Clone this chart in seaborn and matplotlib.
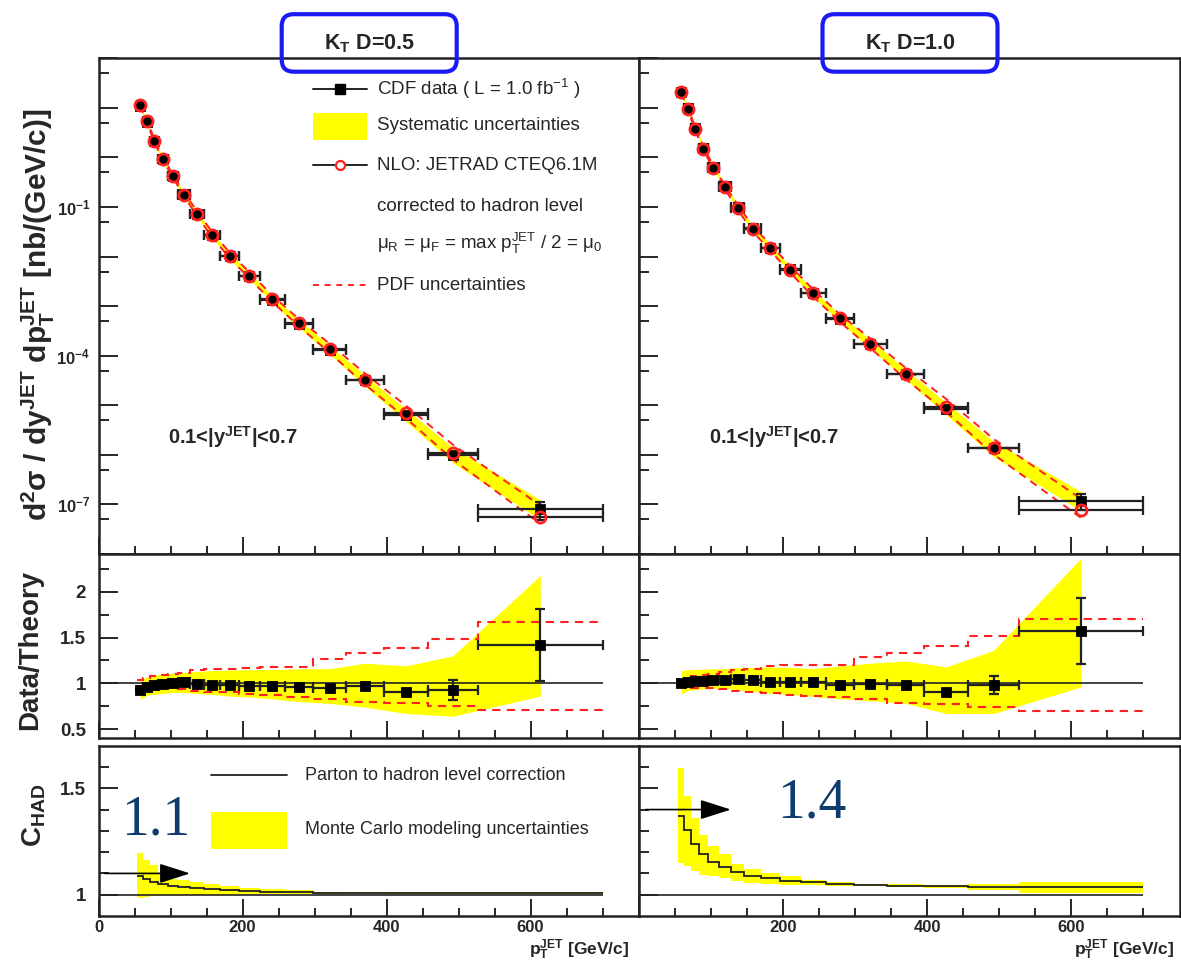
import numpy as np
import pandas as pd
import seaborn as sns
import matplotlib
matplotlib.use("Agg")
import matplotlib.pyplot as plt
from matplotlib.transforms import IdentityTransform
from matplotlib.patches import FancyBboxPatch, Rectangle
from matplotlib.lines import Line2D
from matplotlib.ticker import FixedLocator, FuncFormatter, NullFormatter

# ---------------- data ----------------
bin_edges = [54, 62, 72, 83, 96, 110, 127, 146, 169, 195, 224, 259, 298, 344, 396, 457, 527, 700]
bin_centers = [58, 67, 77.5, 89, 103, 118.5, 136.5, 157.5, 182, 209.5, 241.5, 278.5, 321, 370, 426.5, 492, 613.5]

# cross sections nb/(GeV/c)
xsec_d05 = [10.7, 5.1, 2.1, 0.93, 0.42, 0.18, 0.072, 0.027, 0.0102, 0.0040, 0.00135,
            4.4e-4, 1.3e-4, 3.2e-5, 6.5e-6, 1.0e-6, 8.1e-8]
xsec_d10 = [20.9, 9.8, 3.9, 1.55, 0.63, 0.26, 0.102, 0.037, 0.0148, 0.0055, 0.00182,
            5.6e-4, 1.7e-4, 4.2e-5, 8.5e-6, 1.35e-6, 1.2e-7]

# data / theory
ratio_d05 = [0.93, 0.96, 0.98, 0.99, 1.0, 1.01, 0.99, 0.985, 0.98, 0.97, 0.97, 0.96, 0.945, 0.97, 0.91, 0.925, 1.42]
ratio_d10 = [1.0, 1.01, 1.02, 1.03, 1.035, 1.04, 1.05, 1.04, 1.01, 1.015, 1.01, 0.98, 0.99, 0.985, 0.90, 0.98, 1.57]
stat_d05 = [0.01, 0.01, 0.01, 0.01, 0.01, 0.01, 0.01, 0.01, 0.01, 0.01, 0.01, 0.015, 0.02, 0.02, 0.03, 0.11, 0.39]
stat_d10 = [0.01, 0.01, 0.01, 0.01, 0.01, 0.01, 0.01, 0.01, 0.01, 0.01, 0.01, 0.015, 0.02, 0.02, 0.03, 0.10, 0.36]

# systematic band (relative to theory)
syst_hi_d05 = [1.04, 1.07, 1.09, 1.10, 1.11, 1.12, 1.13, 1.14, 1.145, 1.15, 1.15, 1.16, 1.16, 1.22, 1.19, 1.30, 2.18]
syst_lo_d05 = [0.82, 0.87, 0.88, 0.89, 0.90, 0.90, 0.89, 0.88, 0.86, 0.85, 0.83, 0.80, 0.78, 0.74, 0.67, 0.64, 0.86]
syst_hi_d10 = [1.14, 1.15, 1.15, 1.155, 1.16, 1.16, 1.17, 1.175, 1.18, 1.175, 1.16, 1.19, 1.22, 1.245, 1.18, 1.36, 2.37]
syst_lo_d10 = [0.88, 0.92, 0.93, 0.94, 0.945, 0.945, 0.93, 0.91, 0.89, 0.88, 0.855, 0.83, 0.81, 0.78, 0.67, 0.67, 0.96]

# PDF uncertainties (per bin)
pdf_hi_d05 = [1.04, 1.06, 1.08, 1.09, 1.10, 1.11, 1.15, 1.16, 1.16, 1.17, 1.18, 1.18, 1.27, 1.33, 1.39, 1.49, 1.675]
pdf_lo_d05 = [0.97, 0.96, 0.95, 0.95, 0.95, 0.94, 0.92, 0.91, 0.90, 0.88, 0.87, 0.855, 0.83, 0.80, 0.78, 0.75, 0.71]
pdf_hi_d10 = [1.04, 1.06, 1.08, 1.09, 1.10, 1.12, 1.15, 1.16, 1.19, 1.20, 1.20, 1.20, 1.285, 1.33, 1.41, 1.52, 1.70]
pdf_lo_d10 = [0.97, 0.96, 0.95, 0.945, 0.945, 0.94, 0.92, 0.90, 0.89, 0.87, 0.86, 0.845, 0.825, 0.79, 0.77, 0.745, 0.70]

# parton-to-hadron correction
chad_d05 = [1.09, 1.075, 1.06, 1.05, 1.04, 1.035, 1.03, 1.025, 1.02, 1.017, 1.014, 1.012, 1.01, 1.01, 1.008, 1.008, 1.008]
chad_hi_d05 = [1.195, 1.165, 1.14, 1.10, 1.075, 1.07, 1.06, 1.05, 1.04, 1.03, 1.025, 1.02, 1.015, 1.014, 1.012, 1.012, 1.012]
chad_lo_d05 = [0.985, 0.99, 0.995, 1.0, 1.0, 1.0, 1.0, 1.0, 1.0, 1.003, 1.003, 1.004, 1.005, 1.006, 1.005, 1.004, 1.004]
chad_d10 = [1.37, 1.305, 1.24, 1.19, 1.155, 1.13, 1.105, 1.09, 1.077, 1.064, 1.058, 1.05, 1.045, 1.042, 1.039, 1.0375, 1.034]
chad_hi_d10 = [1.594, 1.464, 1.36, 1.28, 1.23, 1.19, 1.145, 1.12, 1.10, 1.09, 1.07, 1.058, 1.052, 1.05, 1.047, 1.052, 1.06]
chad_lo_d10 = [1.148, 1.133, 1.11, 1.094, 1.086, 1.078, 1.0625, 1.055, 1.052, 1.045, 1.045, 1.042, 1.039, 1.036, 1.03, 1.02, 1.008]

titles = ["K$_\\mathbf{T}$ D=0.5", "K$_\\mathbf{T}$ D=1.0"]
chad_marks = [1.1, 1.4]
chad_mark_text = ["1.1", "1.4"]
chad_mark_pos = [(80, 1.35), (239, 1.43)]

# ---------------- style ----------------
sns.set_theme(style="ticks")
plt.rcParams["font.family"] = ["Liberation Sans", "DejaVu Sans"]
plt.rcParams.update({
    "mathtext.fontset": "custom",
    "mathtext.rm": "Liberation Sans",
    "mathtext.it": "Liberation Sans:italic",
    "mathtext.bf": "Liberation Sans:bold",
    "axes.linewidth": 1.8,
    "axes.edgecolor": "#222222",
    "xtick.direction": "in",
    "ytick.direction": "in",
})

W, H = 1181, 964
fig = plt.figure(figsize=(W / 100, H / 100), dpi=100)
fig.patch.set_facecolor("white")


def px_axes(x0, x1, y0, y1):
    return fig.add_axes([x0 / W, 1 - y1 / H, (x1 - x0) / W, (y1 - y0) / H])


def ftext(x, y, s, **kw):
    fig.text(x / W, 1 - y / H, s, **kw)


YELLOW = "#ffff00"
RED = "#ff2020"

cols = [(98.5, 639.3), (639.3, 1180.1)]
rows = {"top": (58.3, 554.0), "ratio": (554.0, 737.7), "chad": (745.7, 916.0)}

panel_data = [
    dict(xs=xsec_d05, r=ratio_d05, st=stat_d05, sh=syst_hi_d05, sl=syst_lo_d05,
         ph=pdf_hi_d05, pl=pdf_lo_d05, c=chad_d05, ch=chad_hi_d05, cl=chad_lo_d05),
    dict(xs=xsec_d10, r=ratio_d10, st=stat_d10, sh=syst_hi_d10, sl=syst_lo_d10,
         ph=pdf_hi_d10, pl=pdf_lo_d10, c=chad_d10, ch=chad_hi_d10, cl=chad_lo_d10),
]

edges = np.array(bin_edges, float)
cent = np.array(bin_centers, float)
xerr = [cent - edges[:-1], edges[1:] - cent]
XLIM = (0, 751)
xmajor = [0, 200, 400, 600]
xminor = [v for v in range(50, 701, 50) if v not in xmajor]


def style_x(ax, labels, show_zero=True):
    ax.set_xlim(*XLIM)
    ax.xaxis.set_major_locator(FixedLocator(xmajor))
    ax.xaxis.set_minor_locator(FixedLocator(xminor))
    ax.xaxis.set_major_formatter(FuncFormatter(
        lambda v, p: "" if (v == 0 and not show_zero) else "%d" % v))
    ax.tick_params(axis="x", which="major", length=12, width=1.4, top=False, bottom=True,
                   labelsize=12, pad=3, labelbottom=labels)
    ax.tick_params(axis="x", which="minor", length=6, width=1.4, top=False, bottom=True)
    for t in ax.get_xticklabels():
        t.set_fontweight("bold")
    ax.set_xlabel("")
    ax.set_ylabel("")


for i, (x0, x1) in enumerate(cols):
    d = panel_data[i]
    data = np.array(d["xs"])
    ratio = np.array(d["r"])
    theory = data / ratio

    # ---------- top panel ----------
    ax = px_axes(x0, x1, *rows["top"])
    ax.set_yscale("log")
    ax.set_ylim(1e-8, 1e2)
    ax.fill_between(cent, theory * np.array(d["sl"]), theory * np.array(d["sh"]),
                    color=YELLOW, lw=0, zorder=1)
    ax.plot(cent, theory * np.array(d["ph"]), ls=(0, (4, 3)), color=RED, lw=1.4, zorder=2)
    ax.plot(cent, theory * np.array(d["pl"]), ls=(0, (4, 3)), color=RED, lw=1.4, zorder=2)
    ax.errorbar(cent, theory, xerr=xerr, fmt="none", ecolor="#222222", elinewidth=1.6,
                capsize=3.5, capthick=1.6, zorder=3)
    ax.errorbar(cent, data, xerr=xerr, yerr=data * np.array(d["st"]), fmt="none",
                ecolor="#222222", elinewidth=1.6, capsize=3.5, capthick=1.6, zorder=3)
    sns.scatterplot(x=cent, y=data, marker="s", color="black", s=45, edgecolor="black",
                    ax=ax, zorder=4, legend=False)
    ax.plot(cent, theory, ls="none", marker="o", ms=8, mfc="none", mec=RED, mew=2.0, zorder=5)
    ax.yaxis.set_major_locator(FixedLocator([10.0 ** k for k in range(-8, 3)]))
    ax.yaxis.set_minor_locator(FixedLocator([5 * 10.0 ** k for k in range(-8, 2)]))
    ax.yaxis.set_major_formatter(FuncFormatter(
        lambda v, p: ("$\\mathbf{10^{%d}}$" % round(np.log10(v))) if round(np.log10(v)) in (-7, -4, -1) else ""))
    ax.yaxis.set_minor_formatter(NullFormatter())
    ax.tick_params(axis="y", which="major", length=14, width=1.4, left=True, right=False,
                   labelsize=12, pad=6, labelleft=(i == 0))
    ax.tick_params(axis="y", which="minor", length=7, width=1.4, left=True, right=False)
    style_x(ax, False)
    ax.text(0.128, 0.235, "0.1<|y$^{\\mathbf{JET}}$|<0.7",
            transform=ax.transAxes, fontsize=14.5, fontweight="bold", ha="left", va="center")

    # ---------- ratio panel ----------
    ax = px_axes(x0, x1, *rows["ratio"])
    ax.set_ylim(0.405, 2.415)
    ax.fill_between(cent, d["sl"], d["sh"], color=YELLOW, lw=0, zorder=1)
    ax.hlines(1, 0, edges[-1], color="#222222", lw=1.2, zorder=2)
    ax.stairs(d["ph"], edges, baseline=None, ls=(0, (4, 3)), color=RED, lw=1.5, zorder=3)
    ax.stairs(d["pl"], edges, baseline=None, ls=(0, (4, 3)), color=RED, lw=1.5, zorder=3)
    ax.errorbar(cent, ratio, xerr=xerr, yerr=d["st"], fmt="none", ecolor="#222222",
                elinewidth=1.6, capsize=3.5, capthick=1.6, zorder=4)
    sns.scatterplot(x=cent, y=ratio, marker="s", color="black", s=55, edgecolor="black",
                    ax=ax, zorder=5, legend=False)
    ax.yaxis.set_major_locator(FixedLocator([0.5, 1, 1.5, 2]))
    ax.yaxis.set_minor_locator(FixedLocator([0.75, 1.25, 1.75, 2.25]))
    ax.yaxis.set_major_formatter(FuncFormatter(lambda v, p: "%g" % v))
    ax.tick_params(axis="y", which="major", length=14, width=1.4, left=True, right=False,
                   labelsize=13.5, pad=9, labelleft=(i == 0))
    ax.tick_params(axis="y", which="minor", length=7, width=1.4, left=True, right=False)
    for t in ax.get_yticklabels():
        t.set_fontweight("bold")
    style_x(ax, False)

    # ---------- C_HAD panel ----------
    ax = px_axes(x0, x1, *rows["chad"])
    ax.set_ylim(0.9, 1.70)
    ax.stairs(d["ch"], edges, baseline=d["cl"], fill=True, color=YELLOW, lw=0, zorder=1)
    ax.hlines(1, 0, edges[-1], color="#222222", lw=1.2, zorder=2)
    ax.stairs(d["c"], edges, baseline=None, color="#222222", lw=1.3, zorder=3)
    ax.annotate("", xy=(131, chad_marks[i]), xytext=(5, chad_marks[i]),
                arrowprops=dict(arrowstyle="-|>,head_length=1.0,head_width=0.32",
                                color="black", lw=1.2, mutation_scale=19), zorder=4)
    ax.text(chad_mark_pos[i][0], chad_mark_pos[i][1], chad_mark_text[i],
            fontfamily="Liberation Serif", fontsize=40, color="#0f3c6e",
            ha="center", va="center", zorder=5)
    ax.yaxis.set_major_locator(FixedLocator([1, 1.5]))
    ax.yaxis.set_minor_locator(FixedLocator([1.1, 1.2, 1.3, 1.4, 1.6]))
    ax.yaxis.set_major_formatter(FuncFormatter(lambda v, p: "%g" % v))
    ax.tick_params(axis="y", which="major", length=14, width=1.4, left=True, right=False,
                   labelsize=13.5, pad=9, labelleft=(i == 0))
    ax.tick_params(axis="y", which="minor", length=7, width=1.4, left=True, right=False)
    for t in ax.get_yticklabels():
        t.set_fontweight("bold")
    style_x(ax, True, show_zero=(i == 0))

    # x label
    ftext(x1 - 10 if i == 0 else x1 - 6, 950, "$\\mathbf{p_T^{JET}}$ [GeV/c]",
          fontsize=12.5, fontweight="bold", ha="right", va="center")

    # title box
    bx0 = 281.7 if i == 0 else 822.5
    box = FancyBboxPatch((bx0, H - 71.7), 175, 57.5,
                         boxstyle="round,pad=0,rounding_size=12",
                         transform=IdentityTransform(), fill=False,
                         edgecolor="#1a1af5", lw=3.0, zorder=10)
    fig.add_artist(box)
    ftext(bx0 + 87.5, 44, titles[i], fontsize=15.5, fontweight="bold", ha="center", va="center")

# ---------- top legend (left panel) ----------
lx0, lx1, tx = 313.3, 366.7, 377.3


def fline(x0_, x1_, y_, **kw):
    fig.add_artist(Line2D([x0_ / W, x1_ / W], [1 - y_ / H, 1 - y_ / H],
                          transform=fig.transFigure, **kw))


LFS = 13.5
fline(lx0, lx1, 89, color="#222222", lw=1.4)
fig.add_artist(Line2D([(lx0 + lx1) / 2 / W], [1 - 89 / H], transform=fig.transFigure,
                      marker="s", ms=7, color="black", ls="none"))
ftext(tx, 89, "CDF data ( L = 1.0 fb$^{-1}$ )", fontsize=LFS, ha="left", va="center")
fig.add_artist(Rectangle((lx0 / W, 1 - 140 / H), (lx1 - lx0) / W, 27.3 / H,
                         transform=fig.transFigure, color=YELLOW, lw=0))
ftext(tx, 126, "Systematic uncertainties", fontsize=LFS, ha="left", va="center")
fline(lx0, lx1, 165, color="#222222", lw=1.4)
fig.add_artist(Line2D([(lx0 + lx1) / 2 / W], [1 - 165 / H], transform=fig.transFigure,
                      marker="o", ms=6.5, mfc="white", mec=RED, mew=1.6, ls="none"))
ftext(tx, 165, "NLO: JETRAD CTEQ6.1M", fontsize=LFS, ha="left", va="center")
ftext(tx, 206.7, "corrected to hadron level", fontsize=LFS, ha="left", va="center")
ftext(tx, 243.3, "$\\mathrm{\\mu_R}$ = $\\mathrm{\\mu_F}$ = max $\\mathrm{p_T^{JET}}$ / 2 = $\\mathrm{\\mu_0}$",
      fontsize=LFS, ha="left", va="center")
fline(lx0, lx1, 285, color=RED, lw=1.4, ls=(0, (3, 3)))
ftext(tx, 285, "PDF uncertainties", fontsize=LFS, ha="left", va="center")

# ---------- C_HAD legend ----------
fline(211, 286.5, 775, color="#222222", lw=1.3)
ftext(304.7, 775, "Parton to hadron level correction", fontsize=13, ha="left", va="center")
fig.add_artist(Rectangle((211 / W, 1 - 849.3 / H), 75.5 / W, 37.6 / H,
                         transform=fig.transFigure, color=YELLOW, lw=0))
ftext(304.7, 830, "Monte Carlo modeling uncertainties", fontsize=13, ha="left", va="center")

# ---------- y labels ----------
ftext(38, 315, "$\\mathbf{d^2\\sigma\\ /\\ dy^{JET}\\ dp_T^{JET}\\ [nb/(GeV/c)]}$",
      fontsize=21.5, rotation=90, ha="center", va="center")
ftext(30, 650, "Data/Theory", fontsize=20, fontweight="bold", rotation=90,
      ha="center", va="center")
ftext(34, 815, "$\\mathbf{C_{HAD}}$", fontsize=20, rotation=90, ha="center", va="center")

fig.savefig("out.png", dpi=100, facecolor="white")
